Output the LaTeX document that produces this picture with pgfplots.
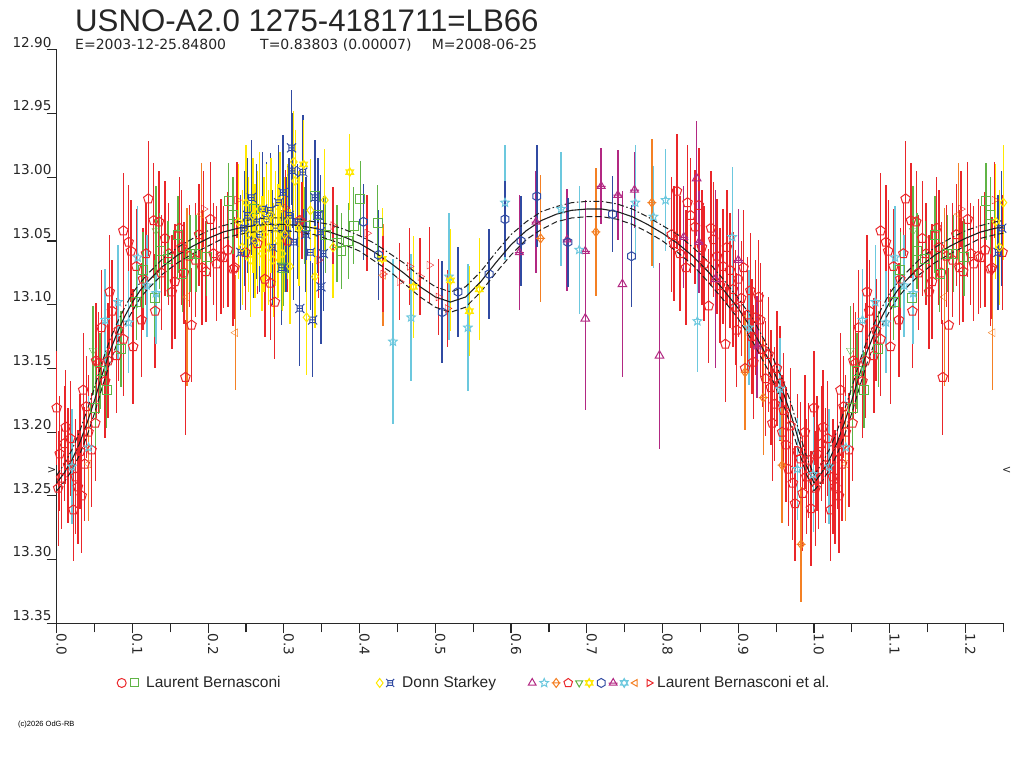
\documentclass[border=0pt]{standalone}
\usepackage{fontspec}
\setmainfont{Liberation Sans}
\newfontfamily\dvs{DejaVu Sans}
\usepackage{pgfplots}
\pgfplotsset{compat=1.18}
\usepackage{pgfplotstable}
\usetikzlibrary{plotmarks}

\definecolor{cred}{RGB}{234,38,42}
\definecolor{cgreen}{RGB}{96,180,70}
\definecolor{cblue}{RGB}{48,74,162}
\definecolor{cyellow}{RGB}{255,232,0}
\definecolor{ccyan}{RGB}{108,200,222}
\definecolor{corange}{RGB}{244,128,36}
\definecolor{cmag}{RGB}{178,40,130}
\definecolor{caxis}{RGB}{40,40,40}

\pgfdeclareplotmark{xsq}{%
  \pgfpathrectangle{\pgfpoint{-0.6\pgfplotmarksize}{-0.6\pgfplotmarksize}}{\pgfpoint{1.2\pgfplotmarksize}{1.2\pgfplotmarksize}}%
  \pgfpathmoveto{\pgfpoint{-\pgfplotmarksize}{-\pgfplotmarksize}}\pgfpathlineto{\pgfpoint{-0.6\pgfplotmarksize}{-0.6\pgfplotmarksize}}%
  \pgfpathmoveto{\pgfpoint{\pgfplotmarksize}{-\pgfplotmarksize}}\pgfpathlineto{\pgfpoint{0.6\pgfplotmarksize}{-0.6\pgfplotmarksize}}%
  \pgfpathmoveto{\pgfpoint{-\pgfplotmarksize}{\pgfplotmarksize}}\pgfpathlineto{\pgfpoint{-0.6\pgfplotmarksize}{0.6\pgfplotmarksize}}%
  \pgfpathmoveto{\pgfpoint{\pgfplotmarksize}{\pgfplotmarksize}}\pgfpathlineto{\pgfpoint{0.6\pgfplotmarksize}{0.6\pgfplotmarksize}}%
  \pgfpathmoveto{\pgfpoint{-0.6\pgfplotmarksize}{0pt}}\pgfpathlineto{\pgfpoint{0.6\pgfplotmarksize}{0pt}}%
  \pgfusepathqstroke}
\pgfdeclareplotmark{dplus}{%
  \pgfpathmoveto{\pgfpoint{0pt}{\pgfplotmarksize}}\pgfpathlineto{\pgfpoint{0.75\pgfplotmarksize}{0pt}}%
  \pgfpathlineto{\pgfpoint{0pt}{-\pgfplotmarksize}}\pgfpathlineto{\pgfpoint{-0.75\pgfplotmarksize}{0pt}}\pgfpathclose
  \pgfpathmoveto{\pgfpoint{-\pgfplotmarksize}{0pt}}\pgfpathlineto{\pgfpoint{\pgfplotmarksize}{0pt}}%
  \pgfusepathqstroke}
\pgfdeclareplotmark{pstar}{%
  \pgfpathmoveto{\pgfpointpolar{90}{\pgfplotmarksize}}%
  \pgfpathlineto{\pgfpointpolar{126}{0.45\pgfplotmarksize}}%
  \pgfpathlineto{\pgfpointpolar{162}{\pgfplotmarksize}}%
  \pgfpathlineto{\pgfpointpolar{198}{0.45\pgfplotmarksize}}%
  \pgfpathlineto{\pgfpointpolar{234}{\pgfplotmarksize}}%
  \pgfpathlineto{\pgfpointpolar{270}{0.45\pgfplotmarksize}}%
  \pgfpathlineto{\pgfpointpolar{306}{\pgfplotmarksize}}%
  \pgfpathlineto{\pgfpointpolar{342}{0.45\pgfplotmarksize}}%
  \pgfpathlineto{\pgfpointpolar{18}{\pgfplotmarksize}}%
  \pgfpathlineto{\pgfpointpolar{54}{0.45\pgfplotmarksize}}%
  \pgfpathclose\pgfusepathqstroke}
\pgfdeclareplotmark{hexa}{%
  \pgfpathmoveto{\pgfpointpolar{90}{\pgfplotmarksize}}\pgfpathlineto{\pgfpointpolar{210}{\pgfplotmarksize}}%
  \pgfpathlineto{\pgfpointpolar{330}{\pgfplotmarksize}}\pgfpathclose
  \pgfpathmoveto{\pgfpointpolar{270}{\pgfplotmarksize}}\pgfpathlineto{\pgfpointpolar{30}{\pgfplotmarksize}}%
  \pgfpathlineto{\pgfpointpolar{150}{\pgfplotmarksize}}\pgfpathclose
  \pgfusepathqstroke}
\pgfdeclareplotmark{tribar}{%
  \pgfpathmoveto{\pgfpointpolar{90}{\pgfplotmarksize}}\pgfpathlineto{\pgfpointpolar{210}{\pgfplotmarksize}}%
  \pgfpathlineto{\pgfpointpolar{330}{\pgfplotmarksize}}\pgfpathclose
  \pgfpathmoveto{\pgfpoint{-\pgfplotmarksize}{-0.05\pgfplotmarksize}}\pgfpathlineto{\pgfpoint{\pgfplotmarksize}{-0.05\pgfplotmarksize}}%
  \pgfusepathqstroke}
\pgfdeclareplotmark{hexg}{%
  \pgfpathmoveto{\pgfpointpolar{90}{\pgfplotmarksize}}\pgfpathlineto{\pgfpointpolar{150}{\pgfplotmarksize}}%
  \pgfpathlineto{\pgfpointpolar{210}{\pgfplotmarksize}}\pgfpathlineto{\pgfpointpolar{270}{\pgfplotmarksize}}%
  \pgfpathlineto{\pgfpointpolar{330}{\pgfplotmarksize}}\pgfpathlineto{\pgfpointpolar{30}{\pgfplotmarksize}}%
  \pgfpathclose\pgfusepathqstroke}

\pgfplotsset{
  pt/.style={only marks, forget plot, mark size=4.5bp, mark options={solid, line width=1bp},
    error bars/y dir=both, error bars/y explicit, error bars/error mark=none,
    error bars/error bar style={line width=1.4bp}},
}

% ---------------- data: phase, magnitude, error ----------------
\pgfplotstableread{
x y e
0.000 13.181 0.045
0.002 13.244 0.045
0.004 13.217 0.045
0.006 13.236 0.040
0.010 13.209 0.045
0.012 13.196 0.045
0.015 13.226 0.045
0.018 13.205 0.045
0.022 13.261 0.040
0.025 13.235 0.045
0.028 13.243 0.045
0.031 13.215 0.045
0.033 13.250 0.045
0.035 13.167 0.045
0.037 13.225 0.045
0.039 13.180 0.040
0.042 13.200 0.045
0.046 13.214 0.045
0.051 13.193 0.045
0.052 13.144 0.045
0.055 13.146 0.040
0.059 13.118 0.045
0.064 13.160 0.045
0.068 13.144 0.045
0.070 13.090 0.045
0.073 13.105 0.040
0.079 13.140 0.045
0.082 13.120 0.040
0.088 13.127 0.045
0.088 13.042 0.045
0.095 13.051 0.045
0.098 13.058 0.040
0.101 13.133 0.045
0.105 13.070 0.045
0.112 13.112 0.045
0.114 13.080 0.040
0.118 13.060 0.040
0.121 13.017 0.045
0.128 13.034 0.045
0.130 13.105 0.045
0.135 13.035 0.040
0.138 13.075 0.045
0.143 13.048 0.045
0.148 13.060 0.040
0.152 13.090 0.045
0.156 13.082 0.045
0.162 13.040 0.040
0.165 13.055 0.045
0.168 13.075 0.040
0.170 13.157 0.045
0.175 13.062 0.040
0.178 13.116 0.045
0.183 13.065 0.045
0.188 13.045 0.040
0.192 13.071 0.045
0.197 13.074 0.040
0.203 13.033 0.045
0.207 13.060 0.040
0.211 13.068 0.045
0.217 13.062 0.045
0.220 13.063 0.040
0.226 13.057 0.045
0.233 13.072 0.045
0.235 13.071 0.040
0.249 13.059 0.045
0.265 13.052 0.040
0.275 13.080 0.045
0.282 13.083 0.045
0.288 13.098 0.045
0.305 13.050 0.040
0.321 13.034 0.040
0.812 13.045 0.045
0.815 13.052 0.045
0.819 13.011 0.045
0.823 13.060 0.045
0.831 13.071 0.045
0.833 13.020 0.045
0.837 13.030 0.045
0.843 13.039 0.045
0.848 13.022 0.045
0.852 13.055 0.045
0.855 13.068 0.045
0.861 13.101 0.045
0.864 13.040 0.045
0.867 13.049 0.045
0.872 13.062 0.045
0.876 13.085 0.045
0.880 13.070 0.045
0.883 13.131 0.045
0.885 13.055 0.045
0.889 13.073 0.045
0.893 13.088 0.045
0.896 13.102 0.045
0.898 13.120 0.045
0.900 13.080 0.045
0.904 13.095 0.045
0.907 13.071 0.045
0.909 13.150 0.045
0.912 13.108 0.045
0.916 13.089 0.045
0.918 13.125 0.045
0.920 13.145 0.045
0.923 13.110 0.045
0.927 13.094 0.045
0.929 13.112 0.045
0.932 13.135 0.045
0.936 13.158 0.045
0.940 13.139 0.045
0.943 13.165 0.045
0.945 13.193 0.045
0.948 13.178 0.045
0.951 13.150 0.045
0.955 13.162 0.045
0.958 13.200 0.045
0.960 13.183 0.045
0.963 13.210 0.045
0.966 13.229 0.045
0.969 13.195 0.045
0.972 13.240 0.045
0.975 13.256 0.045
0.978 13.215 0.045
0.982 13.221 0.045
0.985 13.248 0.045
0.988 13.200 0.045
0.990 13.235 0.045
0.993 13.222 0.045
0.996 13.260 0.045
}\tred

\pgfplotstableread{
x y e
0.051 13.181 0.030
0.057 13.152 0.030
0.066 13.167 0.030
0.085 13.135 0.030
0.105 13.098 0.030
0.114 13.073 0.030
0.130 13.095 0.030
0.136 13.058 0.030
0.147 13.064 0.030
0.160 13.045 0.030
0.166 13.076 0.030
0.176 13.060 0.030
0.184 13.060 0.030
0.198 13.063 0.030
0.227 13.019 0.030
0.233 13.030 0.030
0.260 13.025 0.030
0.299 13.071 0.030
0.328 13.038 0.030
0.341 13.015 0.030
0.345 13.030 0.030
0.355 13.045 0.030
0.370 13.052 0.030
0.376 13.058 0.030
0.385 13.050 0.030
0.392 13.038 0.030
0.401 13.017 0.030
0.424 13.036 0.030
}\tgreen

\pgfplotstableread{
x y e
0.240 13.035 0.045
0.245 13.055 0.045
0.250 13.020 0.045
0.253 13.045 0.045
0.256 13.065 0.045
0.259 13.030 0.045
0.262 13.050 0.045
0.265 13.040 0.045
0.268 13.025 0.045
0.271 13.060 0.045
0.274 13.045 0.045
0.277 13.035 0.045
0.280 13.055 0.045
0.283 13.030 0.045
0.286 13.065 0.045
0.289 13.040 0.045
0.292 13.050 0.045
0.295 13.025 0.045
0.298 13.060 0.045
0.301 13.045 0.045
0.305 13.035 0.045
0.308 13.070 0.045
0.313 12.988 0.040
0.315 13.003 0.040
0.320 13.040 0.045
0.330 13.110 0.045
0.335 13.026 0.040
0.341 13.078 0.040
0.354 13.018 0.040
0.365 13.055 0.040
}\tyellow

\pgfplotstableread{
x y e
0.243 13.059 0.045
0.248 13.040 0.045
0.252 13.030 0.045
0.257 13.016 0.045
0.260 13.050 0.045
0.264 13.035 0.045
0.268 13.045 0.045
0.272 13.025 0.045
0.277 13.033 0.045
0.282 13.026 0.045
0.285 13.055 0.045
0.289 13.040 0.045
0.293 13.020 0.045
0.297 13.071 0.045
0.299 13.012 0.045
0.303 13.045 0.045
0.307 13.030 0.045
0.310 12.977 0.045
0.311 12.995 0.045
0.313 13.051 0.045
0.318 13.035 0.045
0.321 13.103 0.045
0.325 12.996 0.045
0.329 13.045 0.045
0.335 13.059 0.045
0.338 13.112 0.045
0.341 13.016 0.045
0.345 13.030 0.045
0.348 13.043 0.045
0.349 13.086 0.045
0.352 13.060 0.045
}\tblue

\pgfplotstableread{
x y e
0.698 13.111 0.072
0.747 13.084 0.073
0.796 13.140 0.073
0.845 13.001 0.045
0.870 13.080 0.070
}\tmagtri

\pgfplotstableread{
x y e
0.611 13.059 0.045
0.633 13.035 0.040
0.674 13.049 0.040
0.698 13.058 0.040
0.719 13.007 0.030
0.741 13.014 0.035
0.763 13.010 0.030
0.828 13.047 0.040
0.848 13.051 0.040
0.900 13.065 0.040
0.925 13.133 0.040
}\tmagbar

\pgfplotstableread{
x y e
0.020 13.227 0.045
0.042 13.212 0.040
0.064 13.112 0.040
0.081 13.098 0.045
0.095 13.114 0.040
0.107 13.063 0.040
0.119 13.085 0.040
0.131 13.091 0.040
0.444 13.129 0.065
0.468 13.110 0.050
0.518 13.078 0.050
0.543 13.118 0.050
0.592 13.020 0.045
0.666 13.025 0.045
0.690 13.057 0.050
0.764 13.020 0.045
0.788 13.031 0.040
0.804 13.018 0.040
0.846 13.113 0.040
0.892 13.047 0.055
0.914 13.118 0.045
0.955 13.166 0.040
0.978 13.229 0.040
0.999 13.233 0.045
}\tcyan

\pgfplotstableread{
x y e
0.639 13.048 0.050
0.712 13.043 0.050
0.786 13.020 0.050
0.909 13.153 0.045
0.933 13.173 0.045
0.958 13.226 0.045
0.983 13.288 0.045
}\torange

\pgfplotstableread{
x y e
0.042 13.225 0.045
0.172 13.094 0.070
0.191 13.029 0.040
0.236 13.122 0.045
0.431 13.077 0.040
}\torangel

\pgfplotstableread{
x y e
0.048 13.136 0.035
0.131 13.042 0.035
0.297 13.069 0.035
}\tgreentri

\pgfplotstableread{
x y e
0.326 12.990 0.035
0.387 12.996 0.030
0.430 13.064 0.040
0.471 13.086 0.040
0.520 13.081 0.040
0.545 13.105 0.035
0.558 13.088 0.040
}\tyelstar

\pgfplotstableread{
x y e
0.405 13.035 0.030
0.425 13.061 0.035
0.509 13.106 0.040
0.530 13.090 0.035
0.571 13.076 0.035
0.592 13.033 0.030
0.613 13.050 0.035
0.634 13.015 0.040
0.675 13.051 0.035
0.734 13.029 0.030
0.759 13.062 0.040
}\tbluehex

\pgfplotstableread{
x y e
0.194 13.025 0.030
0.238 13.018 0.030
0.302 13.024 0.030
0.324 13.034 0.030
0.346 13.065 0.030
0.365 13.038 0.030
0.410 13.044 0.030
0.431 13.076 0.030
0.453 13.082 0.030
0.466 13.070 0.030
0.480 13.078 0.030
0.492 13.069 0.030
0.504 13.094 0.030
0.516 13.103 0.030
}\tredtri

% fitted light curve and its two bounds
\pgfplotstableread{
p m a b
0.00 13.240 13.234 13.246
0.01 13.232 13.225 13.239
0.02 13.222 13.214 13.230
0.03 13.209 13.200 13.218
0.04 13.193 13.183 13.203
0.05 13.175 13.165 13.185
0.06 13.155 13.145 13.165
0.07 13.137 13.128 13.146
0.08 13.122 13.114 13.130
0.09 13.109 13.102 13.116
0.10 13.098 13.091 13.105
0.11 13.089 13.083 13.095
0.12 13.082 13.076 13.088
0.14 13.070 13.064 13.076
0.16 13.061 13.055 13.067
0.18 13.054 13.048 13.060
0.20 13.048 13.042 13.054
0.22 13.043 13.038 13.048
0.24 13.040 13.035 13.045
0.25 13.039 13.034 13.044
0.26 13.038 13.033 13.043
0.28 13.037 13.032 13.042
0.30 13.037 13.032 13.042
0.32 13.038 13.033 13.043
0.34 13.040 13.035 13.045
0.36 13.043 13.037 13.049
0.38 13.047 13.041 13.053
0.40 13.052 13.046 13.058
0.42 13.059 13.052 13.066
0.44 13.067 13.060 13.074
0.46 13.076 13.068 13.084
0.48 13.086 13.078 13.094
0.50 13.094 13.086 13.102
0.52 13.098 13.090 13.106
0.54 13.094 13.086 13.102
0.56 13.082 13.074 13.090
0.58 13.067 13.059 13.075
0.60 13.053 13.045 13.061
0.62 13.042 13.035 13.049
0.64 13.034 13.027 13.041
0.66 13.029 13.023 13.035
0.68 13.026 13.020 13.032
0.70 13.025 13.019 13.031
0.72 13.025 13.019 13.031
0.74 13.027 13.021 13.033
0.76 13.031 13.025 13.037
0.78 13.037 13.031 13.043
0.80 13.044 13.038 13.050
0.82 13.052 13.045 13.059
0.84 13.062 13.055 13.069
0.86 13.074 13.066 13.082
0.88 13.088 13.080 13.096
0.90 13.103 13.095 13.111
0.92 13.121 13.112 13.130
0.94 13.143 13.134 13.152
0.96 13.170 13.161 13.179
0.97 13.187 13.178 13.196
0.98 13.207 13.199 13.215
0.99 13.226 13.219 13.233
1.00 13.240 13.234 13.246
}\curve

% plot a series at its phase and again one cycle later (phases 1.0 to 1.25)
\newcommand\ser[2]{%
  \addplot[pt,#1] table[x=x,y=y,y error=e]{#2};
  \addplot[pt,#1,restrict x to domain=1:1.2505] table[x expr=\thisrow{x}+1,y=y,y error=e]{#2};
}
\newcommand\crv[2]{%
  \addplot[forget plot,no marks,#1] table[x=p,y=#2]{\curve};
  \addplot[forget plot,no marks,#1,restrict x to domain=1:1.2505] table[x expr=\thisrow{p}+1,y=#2]{\curve};
}

\begin{document}
\begin{tikzpicture}
\path[use as bounding box] (0,0) rectangle (1024bp,768bp);

\node[anchor=base west, inner sep=0pt, font=\fontsize{31.2bp}{34bp}\selectfont, text=black!85] at (75bp,736.3bp) {USNO-A2.0 1275-4181711=LB66};
\begin{scope}[every node/.style={anchor=base west, inner sep=0pt, font=\dvs\fontsize{14bp}{16bp}\selectfont, text=black!85}]
\node at (75bp,718bp) {E=2003-12-25.84800};
\node at (260bp,718bp) {T=0.83803 (0.00007)};
\node at (431.7bp,718bp) {M=2008-06-25};
\end{scope}
\node[anchor=base west, inner sep=0pt, font=\fontsize{7.5bp}{8bp}\selectfont] at (18bp,41bp) {(c)2026 OdG-RB};
\node[inner sep=0pt, font=\dvs\fontsize{11bp}{12bp}\selectfont, text=black!85] at (51.7bp,298bp) {>};
\node[inner sep=0pt, font=\dvs\fontsize{11bp}{12bp}\selectfont, text=black!85] at (1006.7bp,298bp) {<};

\begin{axis}[
  at={(56.7bp,144.7bp)}, anchor=south west,
  scale only axis, width=946.6bp, height=573.6bp,
  xmin=0, xmax=1.25, ymin=12.90, ymax=13.35, y dir=reverse,
  clip=false,
  axis x line*=bottom, axis y line*=left,
  axis line style={-, caxis, line width=1.3bp},
  every outer x axis line/.append style={-},
  every outer y axis line/.append style={-},
  tick align=outside,
  major tick length=10bp, minor tick length=9bp,
  tick style={caxis, line width=1.2bp},
  xtick={0,0.1,0.2,0.3,0.4,0.5,0.6,0.7,0.8,0.9,1.0,1.1,1.2},
  minor xtick={0.05,0.15,0.25,0.35,0.45,0.55,0.65,0.75,0.85,0.95,1.05,1.15,1.25},
  ytick={12.90,12.95,13.00,13.05,13.10,13.15,13.20,13.25,13.30,13.35},
  /pgf/number format/assume math mode=true,
  xticklabel style={/pgf/number format/fixed, /pgf/number format/fixed zerofill,
    /pgf/number format/precision=1, rotate=-90, anchor=base west, inner sep=0pt,
    font=\dvs\fontsize{13.6bp}{14bp}\selectfont, text=black!85},
  yticklabel style={/pgf/number format/fixed, /pgf/number format/fixed zerofill,
    /pgf/number format/precision=2, anchor=base east, inner sep=0pt, xshift=5bp, yshift=2.7bp,
    font=\dvs\fontsize{13.6bp}{14bp}\selectfont, text=black!85},
  legend columns=3,
  legend cell align=left,
  legend style={at={(0.0637,-0.104)}, anchor=west, draw=none, fill=none,
    inner sep=0pt, /tikz/column sep=0pt,
    nodes={inner sep=0pt, anchor=west, font=\fontsize{15.5bp}{18bp}\selectfont, text=black!85}},
]

\ser{cred, mark=pentagon, mark size=5bp}{\tred}
\ser{cgreen, mark=square}{\tgreen}
\ser{cblue, mark=xsq}{\tblue}
\ser{cyellow, mark=diamond}{\tyellow}
\ser{cmag, mark=triangle, mark size=5bp}{\tmagtri}
\ser{cmag, mark=tribar}{\tmagbar}
\ser{ccyan, mark=pstar}{\tcyan}
\ser{corange, mark=dplus}{\torange}
\ser{corange, mark=triangle, mark options={rotate=90}}{\torangel}
\ser{cgreen, mark=triangle, mark options={rotate=180}}{\tgreentri}
\ser{cyellow, mark=hexa}{\tyelstar}
\ser{cblue, mark=hexg}{\tbluehex}
\ser{cred, mark=triangle, mark options={rotate=-90}}{\tredtri}

\crv{black!88, line width=1.1bp}{m}
\crv{black!88, line width=1bp, dash pattern=on 6bp off 2.5bp on 1.5bp off 2.5bp}{a}
\crv{black!88, line width=1bp, dash pattern=on 6bp off 3bp}{b}

\addlegendimage{legend image code/.code={%
  \path[draw=none, fill=none] (0bp,-5bp) rectangle (29bp,5bp);
  \draw[cred, line width=1bp, mark=o, mark size=4.5bp] plot coordinates {(4.5bp,0bp)};
  \draw[cgreen, line width=1bp, mark=square, mark size=4bp] plot coordinates {(17.4bp,0bp)};}}
\addlegendentry{\makebox[229bp][l]{Laurent Bernasconi}}
\addlegendimage{legend image code/.code={%
  \path[draw=none, fill=none] (0bp,-5bp) rectangle (27bp,5bp);
  \draw[cyellow, line width=1bp, mark=diamond, mark size=4.5bp] plot coordinates {(4.5bp,0bp)};
  \draw[cblue, line width=1bp, mark=xsq, mark size=4bp] plot coordinates {(15bp,0bp)};}}
\addlegendentry{\makebox[126bp][l]{Donn Starkey}}
\addlegendimage{legend image code/.code={%
  \path[draw=none, fill=none] (0bp,-5bp) rectangle (129bp,5bp);
  \draw[cmag, line width=1bp, mark=triangle, mark size=4.5bp] plot coordinates {(4bp,0bp)};
  \draw[ccyan, line width=1bp, mark=pstar, mark size=4.5bp] plot coordinates {(16bp,0bp)};
  \draw[corange, line width=1bp, mark=dplus, mark size=4.5bp] plot coordinates {(28bp,0bp)};
  \draw[cred, line width=1bp, mark=pentagon, mark size=4.5bp] plot coordinates {(40bp,0bp)};
  \draw[cgreen, line width=1bp, mark=triangle, mark size=4bp, mark options={rotate=180}] plot coordinates {(51bp,0bp)};
  \draw[cyellow, line width=1bp, mark=hexa, mark size=4.5bp] plot coordinates {(61bp,0bp)};
  \draw[cblue, line width=1bp, mark=hexg, mark size=4.5bp] plot coordinates {(73bp,0bp)};
  \draw[cmag, line width=1bp, mark=tribar, mark size=4.5bp] plot coordinates {(85bp,0bp)};
  \draw[ccyan, line width=1bp, mark=hexa, mark size=4.5bp] plot coordinates {(96bp,0bp)};
  \draw[corange, line width=1bp, mark=triangle, mark size=4bp, mark options={rotate=90}] plot coordinates {(107bp,0bp)};
  \draw[cred, line width=1bp, mark=triangle, mark size=4bp, mark options={rotate=-90}] plot coordinates {(121bp,0bp)};}}
\addlegendentry{Laurent Bernasconi et al.}
\end{axis}
\end{tikzpicture}
\end{document}
